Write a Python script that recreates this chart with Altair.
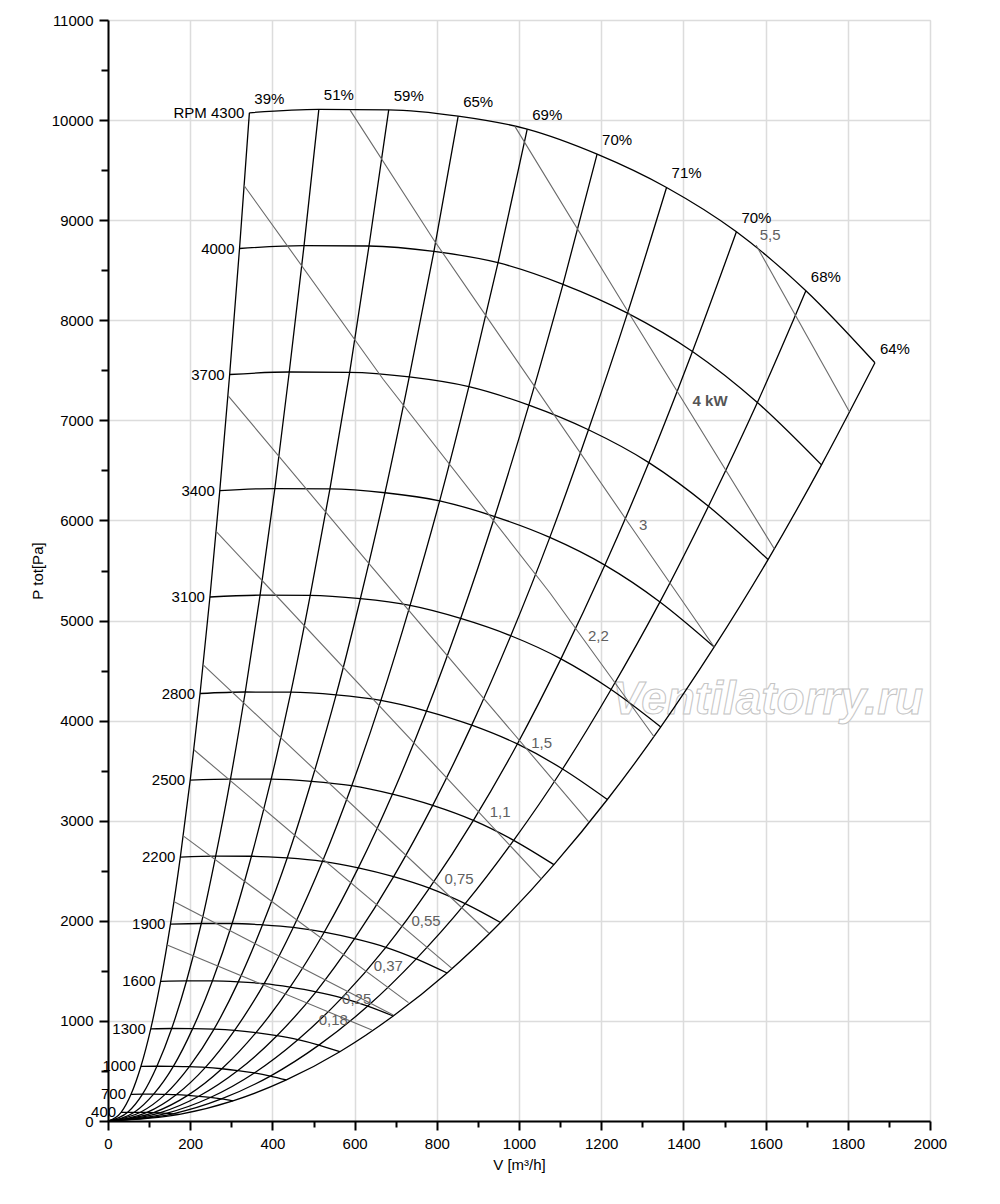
import altair as alt
import pandas as pd

FONT = "Liberation Sans"
FS = 15

# ---- fan speed curves (RPM), points where each meets the efficiency lines ----
rpm_values = [4300, 4000, 3700, 3400, 3100, 2800, 2500, 2200, 1900, 1600, 1300, 1000, 700, 400]
eff_labels = ["39%", "51%", "59%", "65%", "69%", "70%", "71%", "70%", "68%", "64%"]

V_4300 = [344, 513, 683, 852, 1020, 1190, 1359, 1529, 1698, 1866]
P_4300 = [10073, 10107, 10103, 10040, 9910, 9660, 9327, 8884, 8295, 7575]
V_4000 = [320, 477, 635, 793, 949, 1107, 1264, 1422, 1580, 1736]
P_4000 = [8717, 8746, 8742, 8688, 8575, 8359, 8071, 7688, 7178, 6555]
V_3700 = [296, 441, 588, 733, 878, 1024, 1169, 1316, 1461, 1606]
P_3700 = [7458, 7483, 7480, 7434, 7337, 7152, 6906, 6578, 6142, 5609]
V_3400 = [272, 406, 540, 674, 807, 941, 1075, 1209, 1343, 1475]
P_3400 = [6298, 6319, 6316, 6277, 6196, 6039, 5831, 5554, 5186, 4736]
V_3100 = [248, 370, 492, 614, 735, 858, 980, 1102, 1224, 1345]
P_3100 = [5235, 5253, 5251, 5218, 5151, 5021, 4848, 4617, 4311, 3937]
V_2800 = [224, 334, 445, 555, 664, 775, 885, 996, 1106, 1215]
P_2800 = [4271, 4286, 4284, 4257, 4202, 4096, 3955, 3767, 3517, 3212]
V_2500 = [200, 298, 397, 495, 593, 692, 790, 889, 987, 1085]
P_2500 = [3405, 3416, 3415, 3394, 3350, 3265, 3153, 3003, 2804, 2561]
V_2200 = [176, 262, 349, 436, 522, 609, 695, 782, 869, 955]
P_2200 = [2637, 2646, 2645, 2628, 2594, 2529, 2441, 2326, 2171, 1983]
V_1900 = [152, 227, 302, 376, 451, 526, 600, 676, 750, 825]
P_1900 = [1967, 1973, 1973, 1960, 1935, 1886, 1821, 1735, 1620, 1479]
V_1600 = [128, 191, 254, 317, 380, 443, 506, 569, 632, 694]
P_1600 = [1395, 1399, 1399, 1390, 1372, 1337, 1291, 1230, 1148, 1049]
V_1300 = [104, 155, 206, 258, 308, 360, 411, 462, 513, 564]
P_1300 = [921, 924, 923, 918, 906, 883, 852, 812, 758, 692]
V_1000 = [80, 119, 159, 198, 237, 277, 316, 356, 395, 434]
P_1000 = [545, 547, 546, 543, 536, 522, 504, 480, 449, 410]
V_700 = [56, 84, 111, 139, 166, 194, 221, 249, 276, 304]
P_700 = [267, 268, 268, 266, 263, 256, 247, 235, 220, 201]
V_400 = [32, 48, 64, 79, 95, 111, 126, 142, 158, 174]
P_400 = [87, 87, 87, 87, 86, 84, 81, 77, 72, 66]

curves = {
    4300: (V_4300, P_4300), 4000: (V_4000, P_4000), 3700: (V_3700, P_3700),
    3400: (V_3400, P_3400), 3100: (V_3100, P_3100), 2800: (V_2800, P_2800),
    2500: (V_2500, P_2500), 2200: (V_2200, P_2200), 1900: (V_1900, P_1900),
    1600: (V_1600, P_1600), 1300: (V_1300, P_1300), 1000: (V_1000, P_1000),
    700: (V_700, P_700), 400: (V_400, P_400),
}

# ---- shaft power lines (kW) ----
kw_labels = ["5,5", "4 kW", "3", "2,2", "1,5", "1,1", "0,75", "0,55", "0,37", "0,25", "0,18"]
kw_line_V = [[1577, 1804], [990, 1262, 1621], [589, 792, 1258, 1475], [331, 670, 1075, 1329],
             [292, 633, 1169], [263, 1054], [231, 927], [209, 836], [183, 731], [160, 694], [144, 642]]
kw_line_P = [[8750, 7085], [9937, 8107, 5718], [10100, 8807, 6025, 4736], [9347, 7408, 5278, 3836],
             [7248, 5578, 2992], [5891, 2419], [4559, 1876], [3709, 1527], [2849, 1183], [2192, 1060], [1759, 910]]
kw_label_V = [1611, 1465, 1302, 1193, 1055, 954, 854, 774, 682, 605, 548]
kw_label_P = [8847, 7191, 5951, 4849, 3776, 3092, 2419, 2002, 1553, 1217, 1010]

watermark_text = "Ventilatorry.ru"
watermark_V = [1605]
watermark_P = [4069]

x_ticks = list(range(0, 2001, 100))
y_ticks = list(range(0, 11001, 500))

# ---- build tables ----
rpm_rows = []
for rpm in rpm_values:
    vs, ps = curves[rpm]
    for v, p in zip(vs, ps):
        rpm_rows.append({"rpm": rpm, "V": v, "P": p})
rpm_df = pd.DataFrame(rpm_rows)

eff_rows = []
for j in range(len(eff_labels)):
    eff_rows.append({"eff": j, "V": 0, "P": 0})
    for rpm in rpm_values:
        vs, ps = curves[rpm]
        eff_rows.append({"eff": j, "V": vs[j], "P": ps[j]})
eff_df = pd.DataFrame(eff_rows)

kw_rows = []
for i, lab in enumerate(kw_labels):
    for v, p in zip(kw_line_V[i], kw_line_P[i]):
        kw_rows.append({"kw": lab, "V": v, "P": p})
kw_df = pd.DataFrame(kw_rows)

rpm_lab_df = pd.DataFrame({
    "V": [curves[r][0][0] for r in rpm_values],
    "P": [curves[r][1][0] for r in rpm_values],
    "text": [("RPM %d" % r) if r == 4300 else str(r) for r in rpm_values],
})
eff_lab_df = pd.DataFrame({"V": V_4300, "P": P_4300, "text": eff_labels})
kw_lab_df = pd.DataFrame({"V": kw_label_V, "P": kw_label_P, "text": kw_labels})
kw_lab_plain = kw_lab_df[kw_lab_df["text"] != "4 kW"]
kw_lab_bold = kw_lab_df[kw_lab_df["text"] == "4 kW"]
wm_df = pd.DataFrame({"V": watermark_V, "P": watermark_P, "text": [watermark_text]})

major_x = "datum.value % 200 === 0"
major_y = "datum.value % 1000 === 0"

x_enc = alt.X("V:Q", scale=alt.Scale(domain=[0, 2000], nice=False, zero=True),
              axis=alt.Axis(values=x_ticks, format="d",
                            labelExpr="datum.value % 200 === 0 ? datum.label : ''",
                            tickSize={"condition": {"test": major_x, "value": 9}, "value": 6},
                            gridOpacity={"condition": {"test": major_x, "value": 1}, "value": 0},
                            grid=True, gridColor="#dcdcdc", gridWidth=1.5,
                            domainColor="black", domainWidth=2, tickColor="black", tickWidth=2,
                            labelFont=FONT, labelFontSize=FS, labelColor="black", labelPadding=6,
                            labelFlush=False, labelOverlap=False,
                            title="V [m³/h]", titleFont=FONT, titleFontSize=FS,
                            titleFontWeight="normal", titleColor="black", titlePadding=6))
y_enc = alt.Y("P:Q", scale=alt.Scale(domain=[0, 11000], nice=False, zero=True),
              axis=alt.Axis(values=y_ticks, format="d",
                            labelExpr="datum.value % 1000 === 0 ? datum.label : ''",
                            tickSize={"condition": {"test": major_y, "value": 9}, "value": 7},
                            gridOpacity={"condition": {"test": major_y, "value": 1}, "value": 0},
                            grid=True, gridColor="#dcdcdc", gridWidth=1.5,
                            domainColor="black", domainWidth=2, tickColor="black", tickWidth=2,
                            labelFont=FONT, labelFontSize=FS, labelColor="black", labelPadding=6,
                            labelFlush=False, labelOverlap=False,
                            title="P tot[Pa]", titleFont=FONT, titleFontSize=FS,
                            titleFontWeight="normal", titleColor="black", titlePadding=6))

watermark = alt.Chart(wm_df).mark_text(
    font=FONT, fontSize=46, fontStyle="italic", fontWeight="bold", fill="white",
    stroke="#c4c4c4", strokeWidth=1, align="center", baseline="alphabetic"
).encode(x=x_enc, y=y_enc, text="text:N")

rpm_lines = alt.Chart(rpm_df).mark_line(
    color="black", strokeWidth=1.3, interpolate="monotone"
).encode(x="V:Q", y="P:Q", detail="rpm:N")

eff_lines = alt.Chart(eff_df).mark_line(
    color="black", strokeWidth=1.3, interpolate="monotone"
).encode(x="V:Q", y="P:Q", detail="eff:N")

kw_lines = alt.Chart(kw_df).mark_line(
    color="#6a6a6a", strokeWidth=1.1
).encode(x="V:Q", y="P:Q", detail="kw:N")

rpm_text = alt.Chart(rpm_lab_df).mark_text(
    font=FONT, fontSize=FS, color="black", align="right", baseline="middle", dx=-5
).encode(x="V:Q", y="P:Q", text="text:N")

eff_text = alt.Chart(eff_lab_df).mark_text(
    font=FONT, fontSize=FS, color="black", align="center", baseline="middle", dx=20, dy=-14
).encode(x="V:Q", y="P:Q", text="text:N")

kw_text = alt.Chart(kw_lab_plain).mark_text(
    font=FONT, fontSize=FS, color="#606060", align="center", baseline="middle"
).encode(x="V:Q", y="P:Q", text="text:N")

kw_text_bold = alt.Chart(kw_lab_bold).mark_text(
    font=FONT, fontSize=FS, color="#555555", fontWeight="bold", align="center", baseline="middle"
).encode(x="V:Q", y="P:Q", text="text:N")

chart = alt.layer(
    watermark, rpm_lines, eff_lines, kw_lines, rpm_text, eff_text, kw_text, kw_text_bold
).properties(
    width=822, height=1101,
    autosize=alt.AutoSizeParams(type="none"),
    padding={"left": 100, "top": 12, "right": 40, "bottom": 70},
).configure_view(stroke=None).configure(background="white")

chart.save("out.html", embed_options={"renderer": "svg", "actions": False})
